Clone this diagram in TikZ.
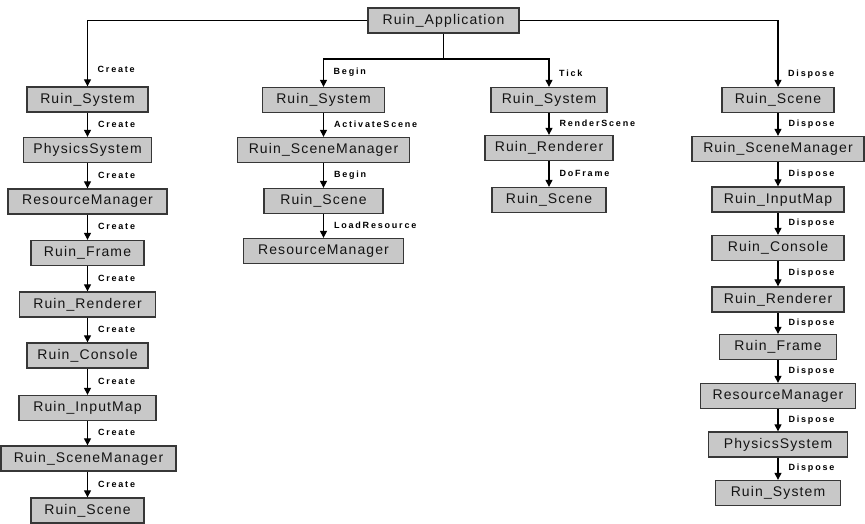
\documentclass[tikz,border=0pt]{standalone}
\usepackage{fontspec}
\setmainfont{Liberation Sans}
\newfontfamily\boxfont{Liberation Sans}[LetterSpace=8]
\newfontfamily\lblfont{Liberation Sans}[LetterSpace=20]
\usetikzlibrary{arrows.meta}
\definecolor{boxfill}{RGB}{200,200,200}
\definecolor{boxline}{RGB}{55,55,55}
\begin{document}
\begin{tikzpicture}[x=1pt,y=-1pt,
  cls/.style={draw=boxline, line width=1.3pt, fill=boxfill, minimum height=25pt,
    inner xsep=2pt, inner ysep=0pt, font=\boxfont\fontsize{14}{16}\selectfont, text=black!92},
  arr/.style={line width=1.1pt, -{Triangle[length=7pt,width=7pt]}},
  wire/.style={line width=1.1pt},
  lbl/.style={font=\lblfont\bfseries\fontsize{9}{10}\selectfont, anchor=west, inner sep=0pt, xshift=10pt, yshift=0.5pt}]
\useasboundingbox (0,0) rectangle (865,524);

% root
\node[cls, minimum width=151pt] (root) at (443.5,20.5) {Ruin\_Application};

% left column
\node[cls, minimum width=121pt] (L1) at (87.5,99.5) {Ruin\_System};
\node[cls, minimum width=128pt] (L2) at (87.5,150) {PhysicsSystem};
\node[cls, minimum width=159pt] (L3) at (87.5,201.5) {ResourceManager};
\node[cls, minimum width=113pt] (L4) at (87.5,253) {Ruin\_Frame};
\node[cls, minimum width=136pt] (L5) at (87.5,304.5) {Ruin\_Renderer};
\node[cls, minimum width=121pt] (L6) at (87.5,355.5) {Ruin\_Console};
\node[cls, minimum width=137pt] (L7) at (87.5,408) {Ruin\_InputMap};
\node[cls, minimum width=175pt] (L8) at (88.5,458.5) {Ruin\_SceneManager};
\node[cls, minimum width=113pt] (L9) at (87.5,510.5) {Ruin\_Scene};

% middle column 1
\node[cls, minimum width=122pt] (M1) at (323.5,100) {Ruin\_System};
\node[cls, minimum width=172pt] (M2) at (323.5,150) {Ruin\_SceneManager};
\node[cls, minimum width=119pt] (M3) at (323.5,201) {Ruin\_Scene};
\node[cls, minimum width=160pt] (M4) at (323.5,251) {ResourceManager};

% middle column 2
\node[cls, minimum width=116pt] (N1) at (549,100) {Ruin\_System};
\node[cls, minimum width=128pt] (N2) at (549,148) {Ruin\_Renderer};
\node[cls, minimum width=114pt] (N3) at (549,200) {Ruin\_Scene};

% right column
\node[cls, minimum width=112pt] (R1) at (778,100) {Ruin\_Scene};
\node[cls, minimum width=172pt] (R2) at (778,149) {Ruin\_SceneManager};
\node[cls, minimum width=132pt] (R3) at (778,199.5) {Ruin\_InputMap};
\node[cls, minimum width=132pt] (R4) at (778,248) {Ruin\_Console};
\node[cls, minimum width=132pt] (R5) at (778,299.5) {Ruin\_Renderer};
\node[cls, minimum width=117pt] (R6) at (778,347) {Ruin\_Frame};
\node[cls, minimum width=155pt] (R7) at (778,396) {ResourceManager};
\node[cls, minimum width=139pt] (R8) at (778,444.5) {PhysicsSystem};
\node[cls, minimum width=125pt] (R9) at (778,493) {Ruin\_System};

% top-level connectors
\coordinate (mj) at (443.5,59);
\draw[arr] (root.west) -| (L1.north);
\draw[arr] (root.east) -| (R1.north);
\draw[wire] (root.south) -- (mj);
\draw[arr] (mj) -| (M1.north);
\draw[arr] (mj) -| (N1.north);
\node[lbl] at ([yshift=16pt]L1.north) {Create};
\node[lbl] at ([yshift=14pt]M1.north) {Begin};
\node[lbl] at ([yshift=13pt]N1.north) {Tick};
\node[lbl] at ([yshift=12pt]R1.north) {Dispose};

% left chain
\draw[arr] (L1) -- node[lbl] {Create} (L2);
\draw[arr] (L2) -- node[lbl] {Create} (L3);
\draw[arr] (L3) -- node[lbl] {Create} (L4);
\draw[arr] (L4) -- node[lbl] {Create} (L5);
\draw[arr] (L5) -- node[lbl] {Create} (L6);
\draw[arr] (L6) -- node[lbl] {Create} (L7);
\draw[arr] (L7.south -| L1) -- node[lbl] {Create} (L8.north -| L1);
\draw[arr] (L8.south -| L1) -- node[lbl] {Create} (L9.north -| L1);

% middle 1 chain
\draw[arr] (M1) -- node[lbl] {ActivateScene} (M2);
\draw[arr] (M2) -- node[lbl] {Begin} (M3);
\draw[arr] (M3) -- node[lbl] {LoadResource} (M4);

% middle 2 chain
\draw[arr] (N1) -- node[lbl] {RenderScene} (N2);
\draw[arr] (N2) -- node[lbl] {DoFrame} (N3);

% right chain
\draw[arr] (R1) -- node[lbl] {Dispose} (R2);
\draw[arr] (R2) -- node[lbl] {Dispose} (R3);
\draw[arr] (R3) -- node[lbl] {Dispose} (R4);
\draw[arr] (R4) -- node[lbl] {Dispose} (R5);
\draw[arr] (R5) -- node[lbl] {Dispose} (R6);
\draw[arr] (R6) -- node[lbl] {Dispose} (R7);
\draw[arr] (R7) -- node[lbl] {Dispose} (R8);
\draw[arr] (R8) -- node[lbl] {Dispose} (R9);
\end{tikzpicture}
\end{document}
